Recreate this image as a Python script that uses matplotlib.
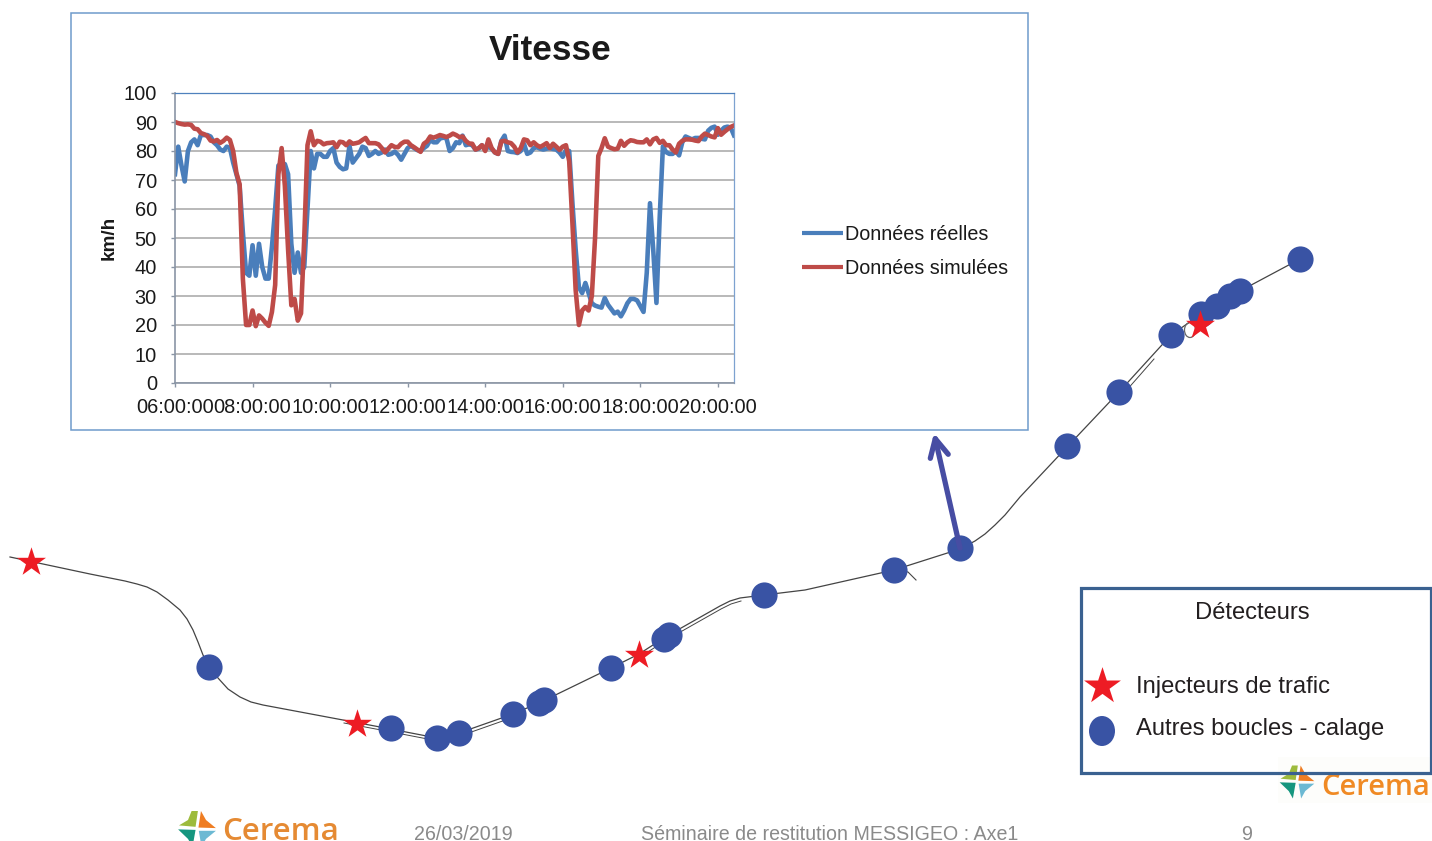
import matplotlib
matplotlib.use('Agg')
import matplotlib.pyplot as plt
from matplotlib.patches import Rectangle, Polygon, Ellipse

plt.rcParams['font.family'] = ['Liberation Sans', 'DejaVu Sans']

# Vitesse, one reading every 5 minutes from 06:00
reelles = [72, 81.5, 75, 69.5, 80, 83, 84, 82, 85.5, 85.5, 85.5, 85, 83, 82, 80.5, 80, 81.5, 81, 76, 72,
           68, 52, 38, 37, 47.5, 37, 48, 40, 36, 36, 47, 60, 75, 75.5, 75.5, 72, 48, 38, 45, 38,
           40, 60, 80, 74, 79, 79, 78, 78, 80, 81, 76, 74.5, 73.7, 74, 81.8, 76, 77.5, 79, 81.5, 81,
           78.3, 79, 80, 79, 79.5, 80.5, 78.7, 79, 79.8, 78.7, 77, 79, 81, 81.8, 81, 80.3, 80, 81, 81.8, 83.8,
           83, 83, 84.3, 84.6, 84.4, 80, 81, 83, 82.7, 85.3, 82, 82.3, 82, 80.5, 80.8, 82, 80.5, 81.5, 80.8, 79.5,
           79, 83.5, 85.3, 80, 79.7, 79.6, 79.3, 80, 82.5, 79, 79.5, 81, 81.3, 80.8, 80.5, 80.8, 81, 80.7, 80.5, 79.5,
           78, 80.3, 80, 62, 46, 33, 31, 34.5, 31, 27.5, 26.7, 26.3, 26, 29.3, 27, 25.5, 24, 24.6, 23, 25,
           27.5, 29, 29, 28.5, 26.5, 24.5, 38, 62, 46, 27.6, 57, 81.6, 79.6, 79, 79, 80, 78.5, 83, 85, 84.5,
           84, 84.5, 84.5, 84.2, 84, 87, 88, 88.4, 85.6, 87, 88.1, 88.4, 88, 85.4]
simulees = [90, 89.6, 89.3, 89.1, 89.2, 89, 87.7, 87.5, 86.2, 85.8, 85.2, 83.6, 83.3, 83.8, 82.8, 83.5, 84.6, 83.8, 80, 72.5,
            68.5, 36, 20, 20, 25, 19.6, 23.3, 22.2, 20.8, 19.7, 24.5, 33.8, 72, 81, 68, 46, 26.8, 29, 21.5, 24,
            50, 82, 86.8, 82, 83.5, 83.2, 82.3, 82.7, 82.8, 83, 81.3, 83.2, 83, 82, 83.3, 82.5, 82.7, 83, 83.8, 84.5,
            82.7, 82.7, 82.7, 82.3, 81, 79.5, 80.8, 82, 81.4, 81.3, 82.5, 83.2, 83.2, 82, 81.3, 80.5, 79.7, 82.5, 83.3, 85,
            84.6, 85, 85.5, 85.2, 84.8, 85.3, 86, 85.5, 84.8, 85, 83.5, 82.6, 82.5, 80.5, 81, 82, 80, 84, 81, 79.5,
            79, 83.3, 83.5, 83, 82.7, 81.5, 79.5, 81, 84, 83.7, 82, 83, 82, 81.4, 82, 82.7, 81, 82.5, 81.5, 80.4,
            81.5, 82, 76.5, 55, 32, 20, 25, 26.2, 25, 30, 50, 78.3, 81, 84.4, 81.5, 81, 80.6, 80.8, 83.5, 81.8,
            83, 83.7, 83.5, 83.1, 83, 83, 84, 82.3, 84, 84.5, 82.8, 83.5, 82, 82, 80.5, 79.5, 82.5, 83.5, 84, 84,
            83.9, 83.6, 83.4, 85, 86, 85.5, 85, 84.7, 87.9, 85.6, 86.6, 87.5, 88.3, 88.8]
heures = [6 + i * 5 / 60 for i in range(len(reelles))]

heures_ticks = [6, 8, 10, 12, 14, 16, 18, 20]
heures_labels = ['06:00:00', '08:00:00', '10:00:00', '12:00:00', '14:00:00', '16:00:00', '18:00:00', '20:00:00']
vitesse_ticks = [0, 10, 20, 30, 40, 50, 60, 70, 80, 90, 100]

# Plan: trace de l'axe et detecteurs, en pixels de l'image
route_x = [10, 43, 90, 125, 137, 147, 157, 168, 180, 187, 193, 198, 203, 210, 218, 228, 240, 251, 263, 343, 380, 437, 459, 513,
           541, 611, 639, 667, 720, 730, 740, 764, 805, 894, 960, 975, 985, 995, 1005, 1020, 1067, 1119, 1171, 1200, 1240, 1300]
route_y = [557, 564, 574, 581, 584, 587, 592, 600, 610, 619, 630, 642, 655, 668, 678, 689, 697, 702, 705, 720, 727, 738, 733, 714,
           702, 668, 654, 636, 606, 601, 598, 595, 590, 570, 549, 541, 534, 525, 515, 497, 447, 392, 335, 315, 291, 259]
# tronçons ou la route est doublee
double_1 = (19, 24)
double_2 = (26, 31)
boucles_x = [209, 391, 437, 459, 513, 539, 544, 611, 664, 669, 764, 894, 960, 1067, 1119, 1171, 1201, 1217, 1230, 1240, 1300]
boucles_y = [667, 728, 738, 733, 714, 703, 700, 668, 639, 635, 595, 570, 548, 446, 392, 335, 314, 306, 296, 291, 259]
injecteurs_x = [31, 357, 639, 1200]
injecteurs_y = [562, 724, 655, 325]

W, H = 1432, 841
BLEU = '#3953a4'
ROUGE = '#ed1c24'

fig = plt.figure(figsize=(W / 100, H / 100), dpi=100)
ax = fig.add_axes([0, 0, 1, 1])
ax.set_xlim(0, W)
ax.set_ylim(H, 0)
ax.axis('off')


def logo(x, y, s, z):
    # petit symbole Cerema, x/y = centre
    formes = [('#9dbb3c', [(-1, -.2), (-.5, -.5), (-.3, -1), (.05, -1), (-.08, -.12)]),
              ('#ef7d22', [(.22, -1), (.5, -.5), (1.05, -.05), (.08, -.08)]),
              ('#16967f', [(-1.05, .02), (-.08, .05), (-.25, 1), (-.5, .55)]),
              ('#6cb9d3', [(.1, .1), (1.05, .1), (.5, .55), (.25, 1)])]
    for c, pts in formes:
        ax.add_patch(Polygon([(x + a * s, y + b * s) for a, b in pts], color=c, lw=0, zorder=z))


# logos
logo(197, 829, 18, 1)
ax.text(222, 840, 'Cerema', family='Open Sans', color='#e58a33', fontsize=22.5, fontweight='semibold', va='baseline', zorder=1)

# pied de page
ax.text(463, 834, '26/03/2019', color='#8a8a8a', fontsize=14.1, ha='center', va='center')
ax.text(830, 834, 'Séminaire de restitution MESSIGEO : Axe1', color='#8a8a8a', fontsize=14.1, ha='center', va='center')
ax.text(1247, 834, '9', color='#8a8a8a', fontsize=14.1, ha='center', va='center')

# route
ax.plot(route_x, route_y, color='#444444', lw=0.9, zorder=2)
for a, b in (double_1, double_2):
    ax.plot([x + 1 for x in route_x[a:b]], [y + 3 for y in route_y[a:b]], color='#444444', lw=0.7, zorder=2)
ax.plot([894, 908, 916], [570, 572, 580], color='#444444', lw=0.8, zorder=2)
ax.plot([1125, 1140, 1154], [392, 375, 359], color='#444444', lw=0.7, zorder=2)
ax.add_patch(Ellipse((1190, 330), 11, 15, fill=False, ec='#666666', lw=0.9, zorder=2))

ax.scatter(boucles_x, boucles_y, s=355, color=BLEU, linewidths=0, zorder=3)
ax.scatter(injecteurs_x, injecteurs_y, s=480, marker='*', color=ROUGE, linewidths=0, zorder=4)

# fleche vers le graphique
ax.annotate('', xy=(934, 433), xytext=(960, 548), zorder=5,
            arrowprops=dict(arrowstyle='->,head_length=0.65,head_width=0.33', mutation_scale=20,
                            color='#474da3', lw=3.8, shrinkA=0, shrinkB=0))

# cadre du graphique
ax.add_patch(Rectangle((71, 13), 957, 417, fc='white', ec='#6f9bcb', lw=1.1, zorder=6))
ax.text(550, 50, 'Vitesse', fontsize=25.3, fontweight='bold', color='#1a1a1a', ha='center', va='center', zorder=7)
ax.text(109, 238, 'km/h', fontsize=13.6, fontweight='bold', color='#1a1a1a', rotation=90, ha='center', va='center', zorder=7)

# legende du graphique
ax.plot([802, 843], [233, 233], color='#4a7ebb', lw=3, solid_capstyle='butt', zorder=7)
ax.plot([802, 843], [267, 267], color='#be4b48', lw=3, solid_capstyle='butt', zorder=7)
ax.text(845, 234, 'Données réelles', fontsize=14.25, color='#1a1a1a', va='center', zorder=7)
ax.text(845, 268, 'Données simulées', fontsize=14.25, color='#1a1a1a', va='center', zorder=7)

# cadre Detecteurs: fond, logo par dessus, puis le trait
ax.add_patch(Rectangle((1080.5, 588), 350, 185, fc='white', ec='none', zorder=6))
ax.add_patch(Rectangle((1278, 757), 154, 46, fc='#fdfdfb', ec='none', zorder=6.1))
logo(1297, 782, 16.5, 6.2)
ax.text(1321, 795, 'Cerema', family='Open Sans', color='#f08a24', fontsize=21, fontweight='semibold', va='baseline', zorder=6.2)
ax.add_patch(Rectangle((1080.5, 588), 350, 185, fc='none', ec='#3a6190', lw=2.3, zorder=6.5))
ax.text(1252, 613, 'Détecteurs', fontsize=17.1, color='#231f20', ha='center', va='center', zorder=7)
ax.scatter([1102], [686], s=780, marker='*', color=ROUGE, linewidths=0, zorder=7)
ax.add_patch(Ellipse((1102, 731), 26, 30, color=BLEU, lw=0, zorder=7))
ax.text(1136, 687, 'Injecteurs de trafic', fontsize=17.1, color='#231f20', va='center', zorder=7)
ax.text(1136, 729, 'Autres boucles - calage', fontsize=17.1, color='#231f20', va='center', zorder=7)

# graphique Vitesse
axV = fig.add_axes([175 / W, 1 - 383 / H, 559 / W, 290 / H], zorder=10)
axV.plot(heures, reelles, color='#4a7ebb', lw=3.3, solid_joinstyle='round')
axV.plot(heures, simulees, color='#be4b48', lw=3.3, solid_joinstyle='round')
axV.set_xlim(6, 6 + 173 * 5 / 60)
axV.set_ylim(0, 100)
axV.set_xticks(heures_ticks)
axV.set_xticklabels(heures_labels)
axV.set_yticks(vitesse_ticks)
axV.tick_params(labelsize=14.4, labelcolor='#1a1a1a', color='#8a95a5', length=3, width=1)
axV.tick_params(axis='x', pad=8)
axV.tick_params(axis='y', pad=10)
axV.grid(axis='y', color='#a6a6a6', lw=1.1)
axV.set_axisbelow(True)
axV.spines['left'].set_color('#8a95a5')
axV.spines['bottom'].set_color('#8a95a5')
axV.spines['left'].set_linewidth(1.2)
axV.spines['bottom'].set_linewidth(1.2)
axV.spines['top'].set_color('#4f81bd')
axV.spines['right'].set_color('#7da2d0')
axV.spines['top'].set_linewidth(0.9)
axV.spines['right'].set_linewidth(0.9)

fig.savefig('out.png', dpi=100)
